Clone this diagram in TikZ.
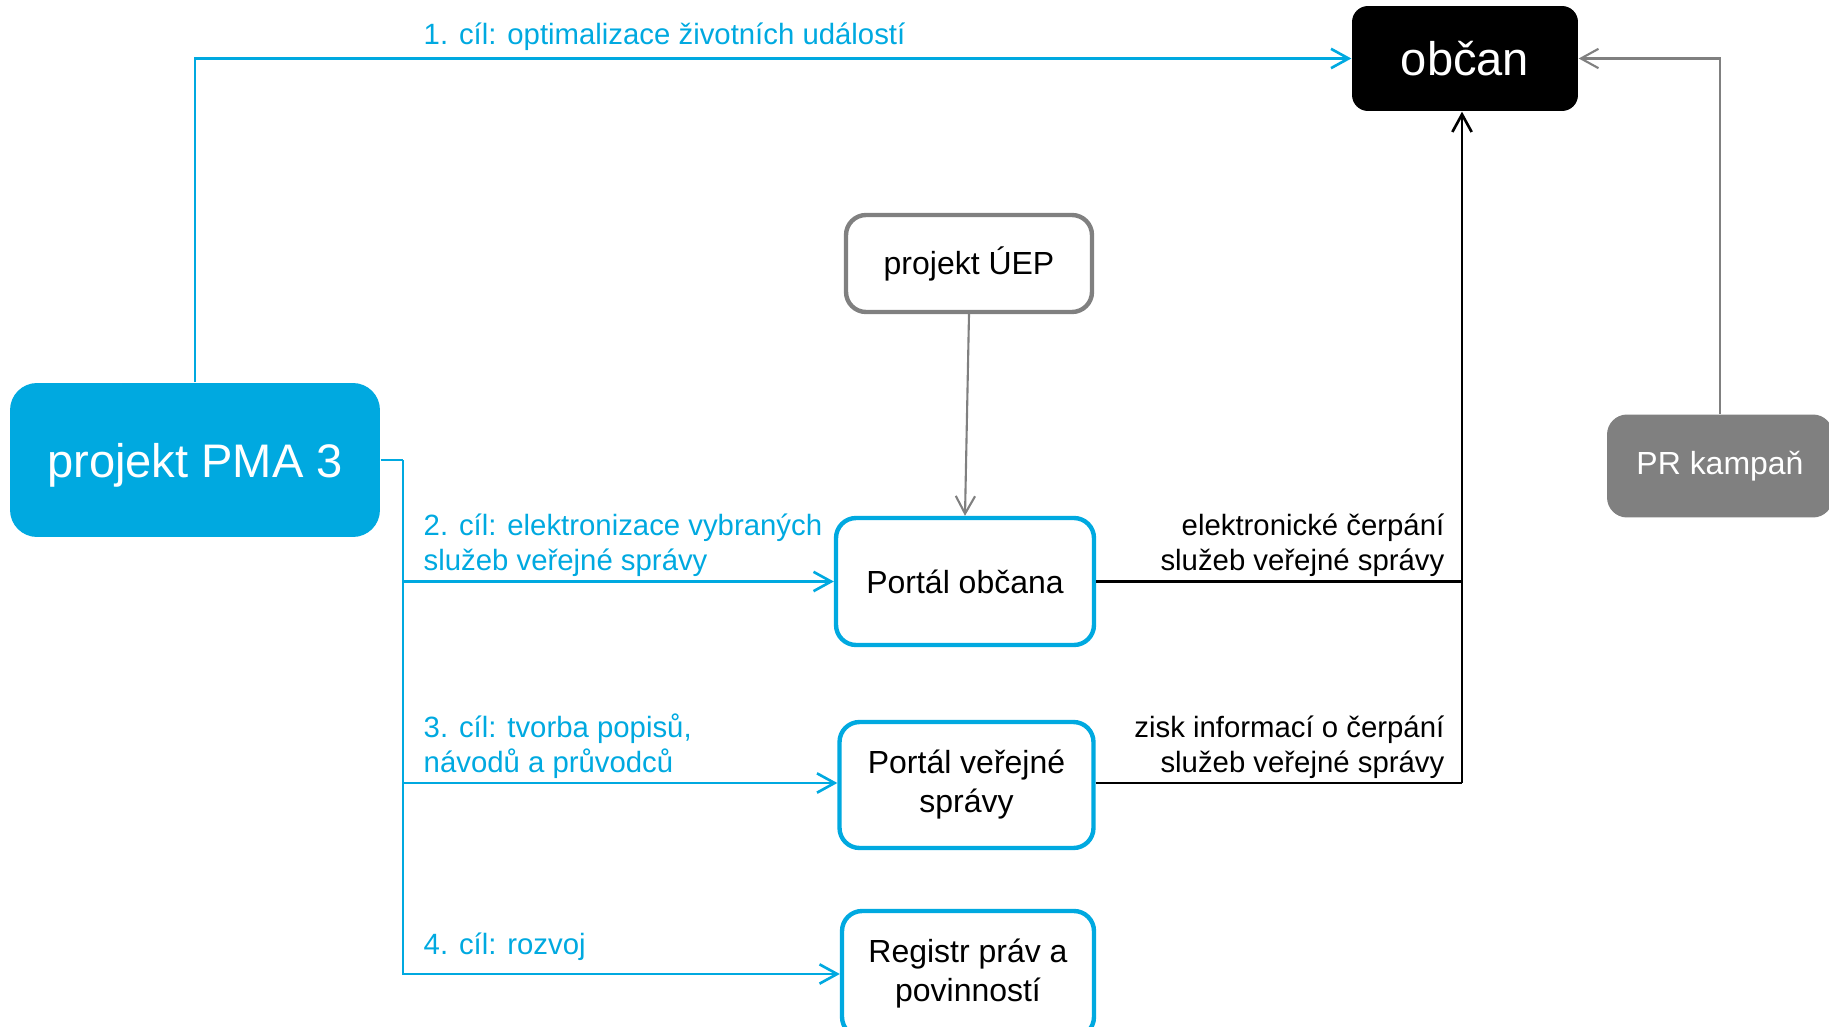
\documentclass[tikz,border=0pt]{standalone}
\usepackage{fontspec}
\setmainfont{Liberation Sans}
\usetikzlibrary{arrows.meta}

\definecolor{pmablue}{RGB}{0,169,224}
\definecolor{prgray}{RGB}{128,128,128}

\begin{document}
\begin{tikzpicture}[x=0.02cm, y=-0.02cm, thick]
    \tikzset{box/.style = {shape=rectangle, rounded corners=0.4cm, inner sep=0pt, align=center,
        font=\fontsize{18.2}{22.2}\selectfont}}
    \tikzset{portal/.style = {box, draw=pmablue, line width=2.5pt, fill=white,
        minimum width=5.08cm, minimum height=2.52cm}}
    \tikzset{bigbox/.style = {box, text=white, text depth=0pt, font=\fontsize{26.8}{30}\selectfont}}
    \tikzset{edge/.style = {->, > = {Straight Barb[length=10pt,width=11pt]}}}
    \tikzset{goal/.style = {draw=pmablue, line width=1.5pt}}
    \tikzset{feed/.style = {draw=black, line width=1.5pt}}
    \tikzset{grayedge/.style = {draw=prgray, line width=1.2pt}}
    \tikzset{lbl/.style = {inner sep=0pt, align=left, font=\fontsize{16.7}{19.9}\selectfont}}

    \useasboundingbox (0,0) rectangle (1829,1027);

    % vertices
    \node[bigbox, fill=pmablue, rounded corners=0.54cm, minimum width=7.4cm, minimum height=3.08cm] (pma) at (195,460) {projekt PMA 3};
    \node[bigbox, fill=black, rounded corners=0.32cm, minimum width=4.52cm, minimum height=2.1cm] (obcan) at (1465,58.5) {občan};
    \node[box, draw=prgray, line width=2.5pt, fill=white, minimum width=4.92cm, minimum height=1.94cm] (uep) at (969,263.5) {projekt ÚEP};
    \node[portal, minimum width=5.16cm, minimum height=2.54cm] (po) at (965,581.5) {Portál občana};
    \node[portal] (pvs) at (966.5,785) {Portál veřejné\\správy};
    \node[portal, minimum width=5.04cm] (reg) at (968,974) {Registr práv a\\povinností};
    \node[box, fill=prgray, text=white, minimum width=4.52cm, minimum height=2.06cm] (pr) at (1720,466) {PR kampaň};
    \coordinate (split) at (403,460);
    \coordinate (join) at (1462,783);

    % labels
    \node[lbl, text=pmablue, anchor=base west] (g1) at (423,45) {1. cíl: optimalizace životních událostí};
    \node[lbl, text=pmablue, anchor=base west] (g2) at (423,570) {2. cíl: elektronizace vybraných\\služeb veřejné správy};
    \node[lbl, text=pmablue, anchor=base west] (g3) at (423,772) {3. cíl: tvorba popisů,\\návodů a průvodců};
    \node[lbl, text=pmablue, anchor=base west] (g4) at (423,954) {4. cíl: rozvoj};
    \node[lbl, align=right, anchor=base east] (f1) at (1445,570) {elektronické čerpání\\služeb veřejné správy};
    \node[lbl, align=right, anchor=base east] (f2) at (1445,772) {zisk informací o čerpání\\služeb veřejné správy};

    % edges
    \draw[goal, edge] (pma.north) |- (obcan.west);
    \draw[goal] (pma.east) -- (split);
    \draw[goal, edge] (split) |- ([yshift=0]po.west);
    \draw[goal, edge] (split) |- (split |- join) -- (pvs.west |- join);
    \draw[goal, edge] (split) |- (reg.west);
    \draw[grayedge, edge] (uep.south) -- (po.north);
    \draw[grayedge, edge] (pr.north) |- (obcan.east);
    \draw[feed] (po.east) -- (po.east -| join);
    \draw[feed] (pvs.east |- join) -- (join);
    \draw[feed, edge] (join) -- (join |- obcan.south);
  \end{tikzpicture}
\end{document}
